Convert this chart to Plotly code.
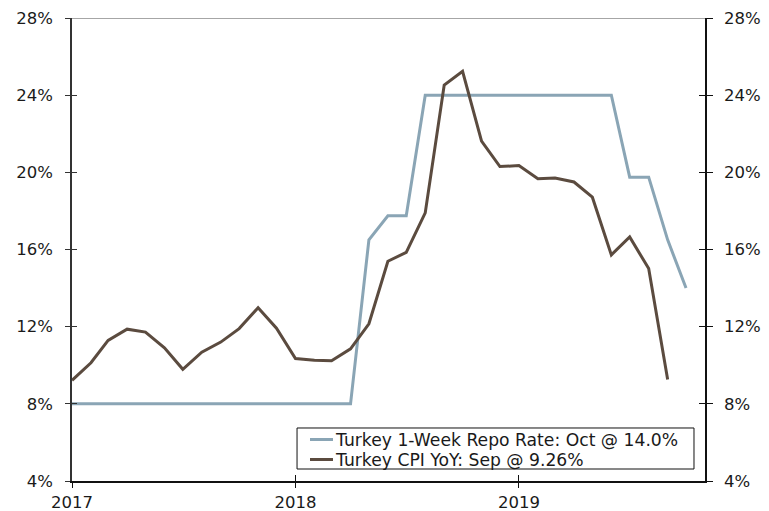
import pandas as pd
import plotly.graph_objects as go

repo_dates = pd.date_range("2017-01-01", "2019-10-01", freq="MS")
cpi_dates = pd.date_range("2017-01-01", "2019-09-01", freq="MS")

repo_rate = [8.0, 8.0, 8.0, 8.0, 8.0, 8.0, 8.0, 8.0, 8.0, 8.0, 8.0, 8.0,
             8.0, 8.0, 8.0, 8.0, 16.5, 17.75, 17.75, 24.0, 24.0, 24.0, 24.0, 24.0,
             24.0, 24.0, 24.0, 24.0, 24.0, 24.0, 19.75, 19.75, 16.5, 14.0]
cpi_yoy = [9.22, 10.13, 11.29, 11.87, 11.72, 10.90, 9.79, 10.68, 11.20, 11.90, 12.98, 11.92,
           10.35, 10.26, 10.23, 10.85, 12.15, 15.39, 15.85, 17.90, 24.52, 25.24, 21.62, 20.30,
           20.35, 19.67, 19.71, 19.50, 18.71, 15.72, 16.65, 15.01, 9.26]

series_names = ["Turkey 1-Week Repo Rate: Oct @ 14.0%", "Turkey CPI YoY: Sep @ 9.26%"]
series_colors = ["#8aa5b5", "#5b4b3f"]

y_ticks = [4, 8, 12, 16, 20, 24, 28]
y_labels = ["4%", "8%", "12%", "16%", "20%", "24%", "28%"]
x_ticks = ["2017-01-01", "2018-01-01", "2019-01-01"]
x_labels = ["2017", "2018", "2019"]
x_range = ["2017-01-01", "2019-11-01"]
y_range = [4, 28]

FONT = "DejaVu Sans"
TXT = "#1a1a1a"
TICK_SIZE = 16.5
LEG_SIZE = 17.2

fig = go.Figure()
fig.add_trace(go.Scatter(x=repo_dates, y=repo_rate, mode="lines",
                         name=series_names[0], showlegend=False,
                         line=dict(color=series_colors[0], width=3)))
fig.add_trace(go.Scatter(x=cpi_dates, y=cpi_yoy, mode="lines",
                         name=series_names[1], showlegend=False,
                         line=dict(color=series_colors[1], width=3)))
# invisible helper traces to activate the extra axes (right labels, crossing ticks)
for xa, ya in [("x", "y2"), ("x2", "y3"), ("x", "y4")]:
    fig.add_trace(go.Scatter(x=cpi_dates[:1], y=[cpi_yoy[0]], xaxis=xa, yaxis=ya,
                             mode="lines", showlegend=False, hoverinfo="skip",
                             line=dict(width=0, color="rgba(0,0,0,0)")))

common_y = dict(range=y_range, tickvals=y_ticks, ticktext=y_labels, automargin=False,
                showgrid=False, zeroline=False, fixedrange=True)

# legend box (drawn as a framed key, in paper coordinates)
box = dict(x0=0.3555, x1=0.9826, y0=0.0259, y1=0.1145)
row_y = [0.0896, 0.0464]
sample_x = (0.376, 0.4123)
text_x = 0.4139

shapes = [dict(type="line", xref="paper", yref="y", x0=0, x1=1, y0=28, y1=28,
               line=dict(color="#888888", width=1.5), layer="below"),
          dict(type="rect", xref="paper", yref="paper", **box,
               line=dict(color="#111111", width=1), fillcolor="white")]
annotations = []
for name, color, ry in zip(series_names, series_colors, row_y):
    shapes.append(dict(type="line", xref="paper", yref="paper",
                       x0=sample_x[0], x1=sample_x[1], y0=ry, y1=ry,
                       line=dict(color=color, width=3)))
    annotations.append(dict(text=name, xref="paper", yref="paper", x=text_x, y=ry,
                            xanchor="left", yanchor="middle", showarrow=False,
                            font=dict(family=FONT, size=LEG_SIZE, color=TXT),
                            borderpad=0))

fig.update_layout(
    width=761, height=503,
    margin=dict(l=64, r=64, t=10, b=30, autoexpand=False),
    paper_bgcolor="white", plot_bgcolor="white",
    font=dict(family=FONT, size=TICK_SIZE, color=TXT),
    showlegend=False,
    xaxis=dict(type="date", range=x_range,
               tickvals=x_ticks, ticktext=x_labels, automargin=False,
               showgrid=False, zeroline=False,
               showline=True, linecolor="#111111", linewidth=1.5,
               ticks="outside", ticklen=5, tickcolor="#111111",
               ticklabelstandoff=0,
               tickfont=dict(size=TICK_SIZE, family=FONT, color=TXT)),
    xaxis2=dict(type="date", range=x_range, overlaying="x", anchor="y",
                tickvals=x_ticks, automargin=False, showticklabels=False,
                showgrid=False, zeroline=False, showline=False,
                ticks="inside", ticklen=6, tickcolor="#111111"),
    yaxis=dict(**common_y, showline=True, linecolor="#333333", linewidth=1.5,
               ticks="outside", ticklen=5, tickcolor="#333333",
               ticklabelstandoff=9,
               tickfont=dict(size=TICK_SIZE, family=FONT, color=TXT)),
    yaxis3=dict(**common_y, overlaying="y", side="left", anchor="x",
                showline=False, showticklabels=False,
                ticks="inside", ticklen=5, tickcolor="#333333"),
    yaxis2=dict(**common_y, overlaying="y", side="right", anchor="x",
                showline=True, linecolor="#111111", linewidth=1.5,
                ticks="outside", ticklen=6, tickcolor="#111111",
                ticklabelstandoff=8,
                tickfont=dict(size=TICK_SIZE, family=FONT, color=TXT)),
    yaxis4=dict(**common_y, overlaying="y", side="right", anchor="x",
                showline=False, showticklabels=False,
                ticks="inside", ticklen=6, tickcolor="#111111"),
    shapes=shapes,
    annotations=annotations,
    hovermode=False,
)

fig.write_html("out.html")
